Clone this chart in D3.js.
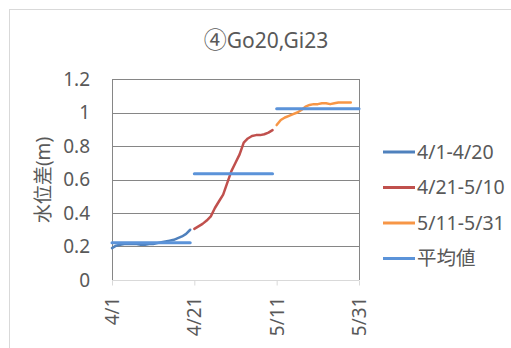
<!DOCTYPE html>
<html><head><meta charset="utf-8">
<script src="https://cdn.jsdelivr.net/npm/d3@7"></script>
<style>html,body{margin:0;padding:0;background:#fff;}svg{display:block;}</style>
</head><body>
<script>
// ---- data ----
const dates = (() => { const a = []; for (let d = 1; d <= 30; d++) a.push("4/" + d); for (let d = 1; d <= 31; d++) a.push("5/" + d); return a; })();
const tickLabels = ["4/1", "4/21", "5/11", "5/31"];
const yTicks = [0, 0.2, 0.4, 0.6, 0.8, 1, 1.2];
const seriesNames = ["4/1-4/20", "4/21-5/10", "5/11-5/31", "平均値"];
const seriesColors = ["#4f81bd", "#c0504d", "#f79646", "#5b93d9"];
const startDates = ["4/1", "4/21", "5/11"];
const blueValues = [0.19, 0.205, 0.21, 0.215, 0.215, 0.215, 0.215, 0.21, 0.21, 0.215,
  0.215, 0.22, 0.225, 0.23, 0.235, 0.24, 0.25, 0.26, 0.275, 0.3];
const redValues = [0.305, 0.32, 0.335, 0.355, 0.38, 0.43, 0.47, 0.51, 0.58, 0.65,
  0.7, 0.75, 0.82, 0.845, 0.86, 0.865, 0.865, 0.87, 0.88, 0.895];
const orangeValues = [0.925, 0.955, 0.97, 0.98, 0.99, 1.0, 1.015, 1.035, 1.045, 1.05,
  1.05, 1.055, 1.055, 1.05, 1.055, 1.06, 1.06, 1.06, 1.06];
const meanValues = [0.223, 0.635, 1.023];
const meanStart = ["4/1", "4/21", "5/11"];
const meanEnd = ["4/20", "5/10", "5/31"];
const titleMark = "④";
const titleText = "Go20,Gi23";
const yTitle = "水位差(m)";

// ---- layout ----
const W = 511, H = 348;
const svg = d3.select("body").append("svg").attr("width", W).attr("height", H);
const font = "'Noto Sans', 'Noto Sans CJK JP', sans-serif";
const txt = "#595959";

svg.append("rect").attr("x", 9.5).attr("y", 9.5).attr("width", W + 20).attr("height", H + 20)
  .attr("fill", "none").attr("stroke", "#d9d9d9").attr("stroke-width", 1);

const x = d3.scalePoint().domain(dates).range([112, 359]);
const y = d3.scaleLinear().domain([0, 1.2]).range([280, 79]);

// gridlines
svg.append("g").selectAll("line").data(yTicks.filter(v => v > 0)).join("line")
  .attr("x1", 112).attr("x2", 359).attr("y1", d => Math.round(y(d)) + 0.5).attr("y2", d => Math.round(y(d)) + 0.5)
  .attr("stroke", "#868686").attr("stroke-width", 1);
// left / right borders
[112, 359].forEach(xx => svg.append("line").attr("x1", xx + 0.5).attr("x2", xx + 0.5)
  .attr("y1", y(1.2)).attr("y2", 280).attr("stroke", "#868686"));

// x axis
const xAxis = d3.axisBottom(x).tickValues(tickLabels).tickSize(5).tickPadding(8);
const gx = svg.append("g").attr("transform", "translate(0,280.5)").call(xAxis);
gx.select(".domain").attr("stroke", "#d9d9d9").attr("d", "M112,0H359");
gx.selectAll(".tick line").attr("stroke", "#d9d9d9");
gx.selectAll(".tick text").attr("fill", txt).attr("font-family", font).attr("font-size", 19)
  .attr("transform", "rotate(-90)").attr("text-anchor", "end").attr("dy", "0.35em")
  .attr("x", -16).attr("y", 0);

// y axis labels
const yAxis = d3.axisLeft(y).tickValues(yTicks).tickSize(0).tickPadding(22).tickFormat(d3.format("~g"));
const gy = svg.append("g").attr("transform", "translate(112,0)").call(yAxis);
gy.select(".domain").remove();
gy.selectAll(".tick text").attr("fill", txt).attr("font-family", font).attr("font-size", 19);

// series
const line = d3.line().x(d => x(d[0])).y(d => y(d[1]));
const seriesData = [blueValues, redValues, orangeValues];
seriesData.forEach((vals, i) => {
  const i0 = dates.indexOf(startDates[i]);
  const pts = vals.map((v, k) => [dates[i0 + k], v]);
  svg.append("path").attr("d", line(pts)).attr("fill", "none")
    .attr("stroke", seriesColors[i]).attr("stroke-width", 2.5).attr("stroke-linejoin", "round").attr("stroke-linecap", "round");
});
// means
meanValues.forEach((v, i) => {
  svg.append("line").attr("x1", x(meanStart[i])).attr("x2", x(meanEnd[i]))
    .attr("y1", y(v)).attr("y2", y(v)).attr("stroke", seriesColors[3]).attr("stroke-width", 3)
    .attr("stroke-linecap", "round");
});

// title
const t = svg.append("text").attr("x", 266).attr("y", 48).attr("text-anchor", "middle")
  .attr("font-family", font).attr("font-size", 21).attr("fill", txt);
t.append("tspan").attr("font-family", "'Noto Sans CJK JP', sans-serif").attr("font-size", 23).text(titleMark);
t.append("tspan").text(titleText);

// y title
svg.append("text").attr("transform", "translate(50,180) rotate(-90)").attr("text-anchor", "middle")
  .attr("font-family", font).attr("font-size", 19).attr("fill", txt).text(yTitle);

// legend
const lg = svg.append("g");
seriesNames.forEach((n, i) => {
  const yy = 152 + i * 35.5;
  lg.append("line").attr("x1", 383).attr("x2", 415).attr("y1", yy).attr("y2", yy)
    .attr("stroke", seriesColors[i]).attr("stroke-width", 3);
  lg.append("text").attr("x", 417).attr("y", yy).attr("dy", "0.35em")
    .attr("font-family", font).attr("font-size", 19.5).attr("fill", txt).text(n);
});
</script>
</body></html>
